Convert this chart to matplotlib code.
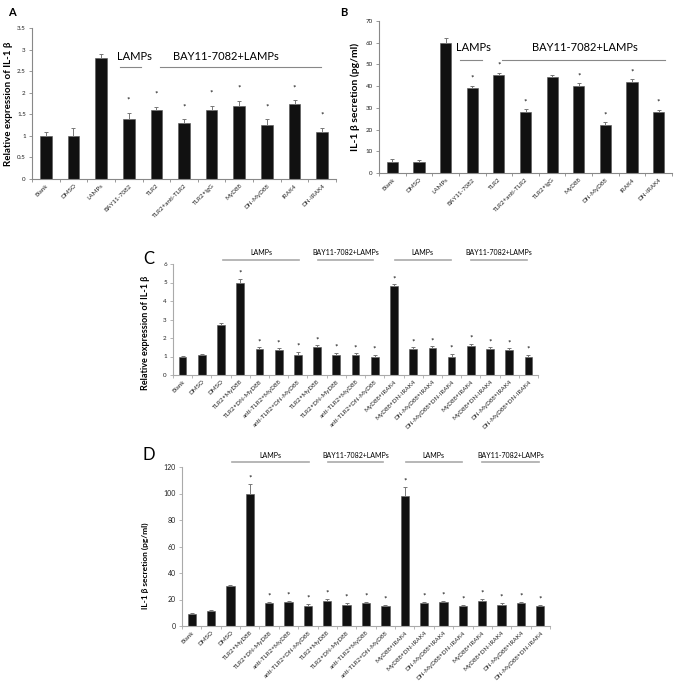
import matplotlib
matplotlib.use("Agg")
import matplotlib.pyplot as plt
import numpy as np

plt.rcParams['font.family'] = ['Lato', 'DejaVu Sans']

# ---------------- data ----------------
ab_labels = ["Blank", "DMSO", "LAMPs", "BAY11-7082", "TLR2", "TLR2+anti-TLR2",
             "TLR2+IgG", "MyD88", "DN-MyD88", "IRAK4", "DN-IRAK4"]
a_values = [1.0, 1.0, 2.8, 1.4, 1.6, 1.3, 1.6, 1.7, 1.25, 1.75, 1.1]
a_errors = [0.08, 0.18, 0.1, 0.12, 0.08, 0.08, 0.1, 0.1, 0.13, 0.07, 0.08]
a_star = [0, 0, 0, 1, 1, 1, 1, 1, 1, 1, 1]

b_values = [5, 5, 60, 39, 45, 28, 44, 40, 22, 42, 28]
b_errors = [1.3, 1.0, 2.0, 1.2, 1.2, 1.3, 1.2, 1.3, 1.3, 1.2, 1.2]
b_star = [0, 0, 0, 1, 1, 1, 0, 1, 1, 1, 1]

cd_labels = ["Blank", "DMSO", "DMSO", "TLR2+MyD88", "TLR2+DN-MyD88", "anti-TLR2+MyD88",
             "anti-TLR2+DN-MyD88", "TLR2+MyD88", "TLR2+DN-MyD88", "anti-TLR2+MyD88",
             "anti-TLR2+DN-MyD88", "MyD88+IRAK4", "MyD88+DN-IRAK4", "DN-MyD88+IRAK4",
             "DN-MyD88+DN-IRAK4", "MyD88+IRAK4", "MyD88+DN-IRAK4", "DN-MyD88+IRAK4",
             "DN-MyD88+DN-IRAK4"]
c_values = [1.0, 1.1, 2.7, 5.0, 1.4, 1.35, 1.1, 1.5, 1.1, 1.08, 1.0,
            4.8, 1.4, 1.45, 1.0, 1.55, 1.4, 1.35, 1.0]
c_errors = [0.04, 0.05, 0.1, 0.2, 0.1, 0.1, 0.15, 0.1, 0.1, 0.1, 0.1,
            0.1, 0.1, 0.1, 0.15, 0.15, 0.1, 0.1, 0.1]
d_values = [9, 11, 30, 100, 17, 18, 15, 19, 16, 17, 15,
            98, 17, 18, 15, 19, 16, 17, 15]
d_errors = [0.8, 0.8, 0.8, 7, 1.2, 1.2, 1.5, 1.2, 1.2, 1.2, 1.2,
            7, 1.2, 1.2, 1.2, 1.2, 1.2, 1.2, 1.2]
cd_star = [0, 0, 0] + [1] * 16

group_texts = ["LAMPs", "BAY11-7082+LAMPs", "LAMPs", "BAY11-7082+LAMPs"]

W, H = 675, 695
fig = plt.figure(figsize=(W / 100, H / 100), dpi=100)


def add_ax(l, r, t, b):
    return fig.add_axes([l / W, 1 - b / H, (r - l) / W, (b - t) / H])


def style(ax, n, labels, ymax, ystep, axcol, fs_tick):
    ax.set_xlim(-0.5, n - 0.5)
    ax.set_ylim(0, ymax)
    ax.set_yticks(np.arange(0, ymax + ystep / 2, ystep))
    for s in ["top", "right"]:
        ax.spines[s].set_visible(False)
    for s in ["left", "bottom"]:
        ax.spines[s].set_color(axcol)
        ax.spines[s].set_linewidth(0.8)
    ax.set_xticks(range(n))
    ax.set_xticklabels(labels, rotation=45, ha="right", rotation_mode="anchor",
                       fontsize=fs_tick, color="#222222")
    ax.tick_params(axis="x", length=0, pad=3)
    ax.set_xticks(np.arange(-0.5, n, 1), minor=True)
    ax.tick_params(axis="x", which="minor", length=2.5, color=axcol, width=0.6)
    ax.tick_params(axis="y", length=2.5, color=axcol, width=0.6, labelsize=fs_tick,
                   labelcolor="#222222", pad=2)


def bars(ax, vals, errs, stars, star_off, width=0.42):
    x = np.arange(len(vals))
    ax.bar(x, vals, width=width, color="#111111", edgecolor="#555555", linewidth=0.4,
           zorder=2)
    ax.errorbar(x, vals, yerr=[np.zeros(len(vals)), errs], fmt="none",
                ecolor="#777777", elinewidth=0.7, capsize=1.2, capthick=0.7, zorder=3)
    for xi, v, e, s in zip(x, vals, errs, stars):
        if s:
            ax.text(xi, v + e + star_off, "*", ha="center", va="center",
                    fontsize=6, color="#111111")


# ---------------- Panel A ----------------
axA = add_ax(32, 336, 28, 179)
style(axA, 11, ab_labels, 3.5, 0.5, "#888888", 4.5)
axA.set_yticklabels(["0", "0.5", "1", "1.5", "2", "2.5", "3", "3.5"])
bars(axA, a_values, a_errors, a_star, 0.3)
axA.set_ylabel("Relative expression of IL-1 β", fontsize=7, fontweight="bold", labelpad=3)
axA.plot([2.69, 3.45], [2.6, 2.6], color="#888888", lw=0.8, clip_on=False)
axA.plot([4.14, 9.97], [2.6, 2.6], color="#888888", lw=0.8, clip_on=False)
axA.text(3.2, 2.85, group_texts[0], ha="center", va="center", fontsize=8)
axA.text(6.5, 2.85, group_texts[1], ha="center", va="center", fontsize=8)
fig.text(8 / W, 1 - 12 / H, "A", fontsize=8, fontweight="bold", va="center")

# ---------------- Panel B ----------------
axB = add_ax(379, 672, 21, 173)
style(axB, 11, ab_labels, 70, 10, "#888888", 4.5)
bars(axB, b_values, b_errors, b_star, 3.5)
axB.set_ylabel("IL-1 β secretion (pg/ml)", fontsize=7.5, fontweight="bold", labelpad=4)
axB.plot([2.55, 3.37], [52, 52], color="#888888", lw=0.8, clip_on=False)
axB.plot([4.12, 10.25], [52, 52], color="#888888", lw=0.8, clip_on=False)
axB.text(3.03, 57.6, group_texts[0], ha="center", va="center", fontsize=8)
axB.text(7.24, 57.6, group_texts[1], ha="center", va="center", fontsize=8)
fig.text(340 / W, 1 - 12 / H, "B", fontsize=8, fontweight="bold", va="center")

# ---------------- Panel C ----------------
group_spans = [(2.1, 6.05), (7.05, 9.9), (11.05, 13.95), (15.0, 17.95)]
axC = add_ax(173, 538, 264, 375)
style(axC, 19, cd_labels, 6, 1, "#aaaaaa", 4.5)
bars(axC, c_values, c_errors, cd_star, 0.3, width=0.4)
axC.set_ylabel("Relative expression of IL-1 β", fontsize=6.5, fontweight="bold")
axC.yaxis.set_label_coords(-0.063, 0.38)
for (x0, x1), t in zip(group_spans, group_texts):
    axC.plot([x0, x1], [6.22, 6.22], color="#aaaaaa", lw=1.2, clip_on=False)
    axC.text((x0 + x1) / 2, 6.6, t, ha="center", va="center", fontsize=5)
fig.text(143 / W, 1 - 259 / H, "C", fontsize=12, va="center")

# ---------------- Panel D ----------------
axD = add_ax(182, 550, 467, 626)
style(axD, 19, cd_labels, 120, 20, "#aaaaaa", 4.5)
axD.tick_params(axis="y", labelsize=5)
bars(axD, d_values, d_errors, cd_star, 4.5, width=0.43)
axD.set_ylabel("IL-1 β secretion (pg/ml)", fontsize=6, fontweight="bold")
axD.yaxis.set_label_coords(-0.09, 0.377)
for (x0, x1), t in zip(group_spans, group_texts):
    axD.plot([x0, x1], [123.8, 123.8], color="#aaaaaa", lw=1.2, clip_on=False)
    axD.text((x0 + x1) / 2, 128.5, t, ha="center", va="center", fontsize=5)
fig.text(143 / W, 1 - 455 / H, "D", fontsize=12, va="center")

fig.savefig("out.png", dpi=100)
